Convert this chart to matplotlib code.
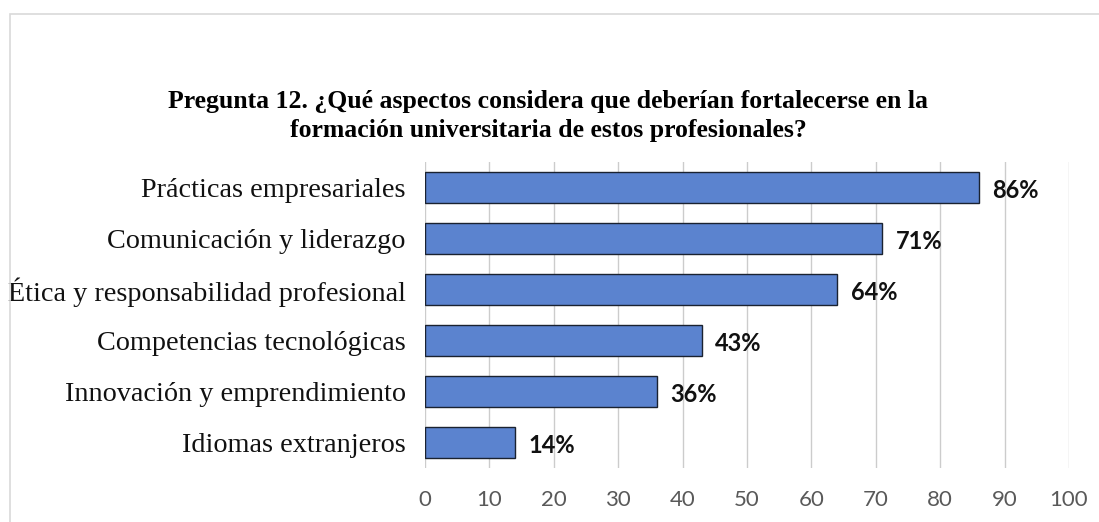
import matplotlib.pyplot as plt
from matplotlib.patches import Rectangle

# Data
categories = ['Prácticas empresariales', 'Comunicación y liderazgo',
              'Ética y responsabilidad profesional', 'Competencias tecnológicas',
              'Innovación y emprendimiento', 'Idiomas extranjeros']
values = [86, 71, 64, 43, 36, 14]
x_ticks = [0, 10, 20, 30, 40, 50, 60, 70, 80, 90, 100]

title = ('Pregunta 12. ¿Qué aspectos considera que deberían fortalecerse en la\n'
         'formación universitaria de estos profesionales?')

fig = plt.figure(figsize=(10.99, 5.22), dpi=100)
ax = fig.add_axes([0.3867, 0.1034, 0.586, 0.5863])

# chart frame (light gray border)
fig.patches.append(Rectangle((10 / 1099, -0.1), 1.2, 1 - 14 / 522 + 0.1,
                             transform=fig.transFigure, fill=False,
                             edgecolor='#d9d9d9', linewidth=1.2, zorder=0))

ypos = list(range(len(categories)))
bars = ax.barh(ypos, values, height=0.6, color='#5b83cf', edgecolor='#1a2230',
               linewidth=1.0, zorder=3)

ax.set_xlim(0, 100)
ax.set_ylim(5.5, -0.5)
ax.set_xticks(x_ticks)
ax.set_yticks(ypos)
ax.set_yticklabels(categories, fontfamily='Liberation Serif', fontsize=20.3, color='#111111')
ax.tick_params(axis='y', length=0, pad=14)
ax.tick_params(axis='x', length=0, pad=16, labelsize=16, labelcolor='#595959')
for lab in ax.get_xticklabels():
    lab.set_fontfamily('Lato')

ax.grid(axis='x', color='#cccccc', linewidth=1.0, zorder=0)
for s in ax.spines.values():
    s.set_visible(False)

for b, v in zip(bars, values):
    ax.text(v + 2.1, b.get_y() + b.get_height() / 2 + 0.05, f'{v}%', va='center',
            ha='left', fontsize=17, fontweight='bold', fontfamily='Lato',
            color='#111111')

fig.text(0.499, 0.778, title, ha='center', va='center', fontsize=18.5,
         fontweight='bold', fontfamily='Liberation Serif', linespacing=1.32)

fig.savefig('out.png', dpi=100)
